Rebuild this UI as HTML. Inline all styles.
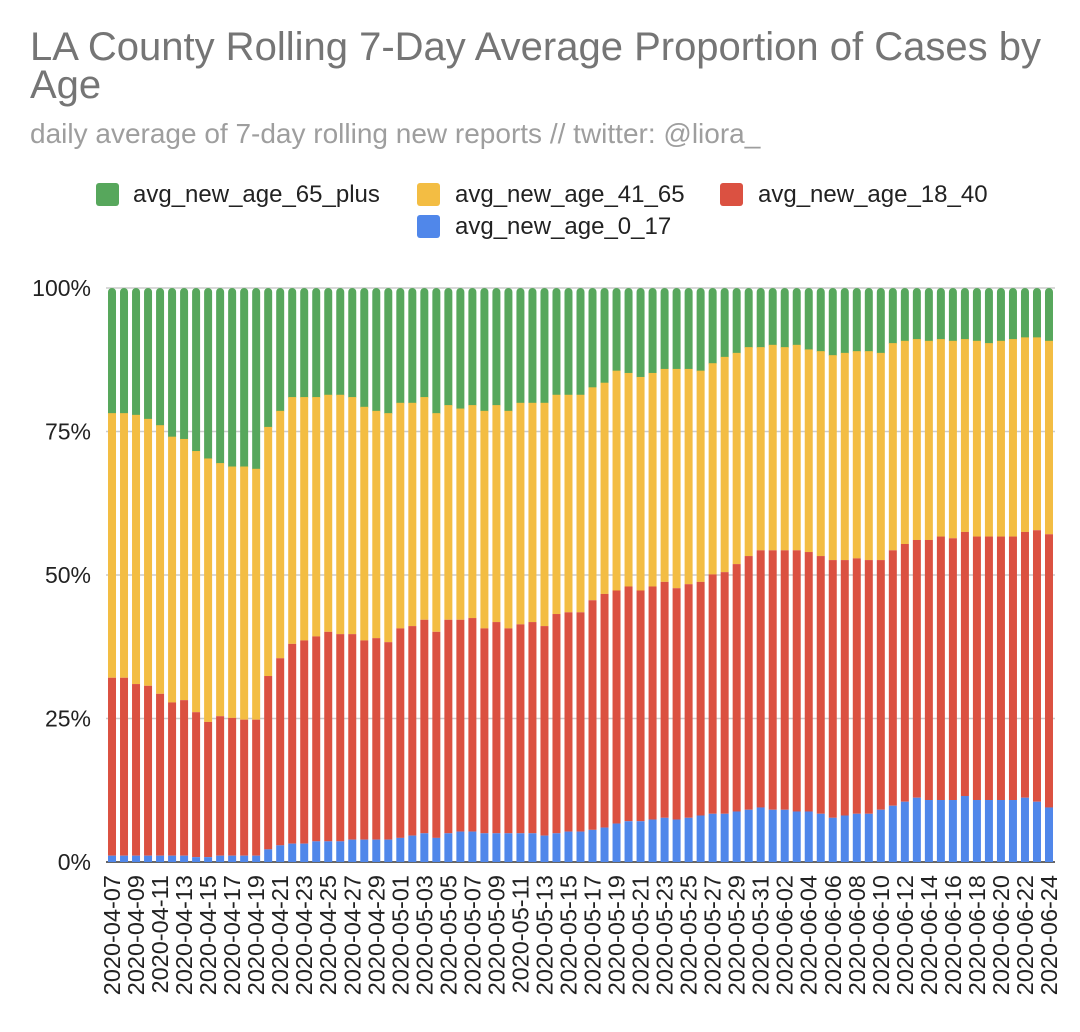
<!DOCTYPE html>
<html><head><meta charset="utf-8"><style>
body{margin:0;background:#fff;width:1080px;height:1032px;overflow:hidden;font-family:"Liberation Sans",sans-serif}
svg{display:block}
</style></head><body>
<svg id="chart" width="1080" height="1032">
<text x="30" y="60" font-size="40" fill="#757575">LA County Rolling 7-Day Average Proportion of Cases by</text>
<text x="30" y="98" font-size="40" fill="#757575">Age</text>
<text x="30" y="143" font-size="28" fill="#9e9e9e">daily average of 7-day rolling new reports // twitter: @liora_</text>
<g>
<g><rect x="96" y="183" width="23" height="23" rx="3" fill="#57a75c"/><text x="133" y="202" font-size="24" fill="#222">avg_new_age_65_plus</text></g>
<g><rect x="417" y="183" width="23" height="23" rx="3" fill="#f3bd43"/><text x="455" y="202" font-size="24" fill="#222">avg_new_age_41_65</text></g>
<g><rect x="720" y="183" width="23" height="23" rx="3" fill="#db5141"/><text x="758" y="202" font-size="24" fill="#222">avg_new_age_18_40</text></g>
<g><rect x="417" y="215" width="23" height="23" rx="3" fill="#5087ea"/><text x="455" y="234" font-size="24" fill="#222">avg_new_age_0_17</text></g>
</g>
<g id="grid"></g><g id="bars"></g><g id="xlabels"></g>
</svg>
<script>
const age0_17=[1.1,1.1,1.1,1.1,1.1,1.1,1.1,0.85,0.85,1.1,1.1,1.1,1.1,2.2,2.9,3.2,3.2,3.6,3.6,3.6,3.9,3.9,3.9,3.9,4.2,4.6,5.0,4.2,5.0,5.3,5.3,5.0,5.0,5.0,5.0,5.0,4.6,5.0,5.3,5.3,5.6,6.0,6.7,7.1,7.1,7.4,7.7,7.4,7.7,8.1,8.4,8.4,8.8,9.1,9.5,9.1,9.1,8.8,8.8,8.4,7.7,8.1,8.4,8.4,9.1,9.8,10.5,11.2,10.8,10.8,10.8,11.5,10.8,10.8,10.8,10.8,11.2,10.5,9.5];
const age18_40=[31.0,31.0,29.9,29.6,28.2,26.7,27.1,25.25,23.55,24.3,24.0,23.7,23.7,30.2,32.6,34.8,35.4,35.7,36.5,36.1,35.8,34.7,35.1,34.4,36.5,36.5,37.2,35.9,37.2,36.9,37.2,35.7,36.8,35.7,36.4,36.8,36.5,38.2,38.2,38.2,40.0,40.7,40.6,40.9,40.2,40.6,41.1,40.3,40.7,40.7,41.7,42.1,43.1,44.2,44.8,45.2,45.2,45.5,45.2,44.9,44.9,44.5,44.5,44.2,43.5,44.5,44.9,44.9,45.3,45.9,45.6,46.0,45.9,45.9,45.9,45.9,46.3,47.3,47.6];
const age41_65=[46.1,46.1,46.9,46.5,46.8,46.3,45.5,45.5,45.9,44.1,43.8,44.1,43.7,43.4,43.1,43.0,42.4,41.7,41.3,41.7,41.3,40.7,39.6,39.9,39.3,38.9,38.8,38.1,37.4,36.8,37.1,37.9,37.8,37.9,38.6,38.2,38.9,38.2,37.9,37.9,37.1,36.8,38.3,37.2,37.2,37.2,37.1,38.2,37.5,36.8,36.8,37.5,36.8,36.4,35.4,35.8,35.4,35.8,35.3,35.7,35.7,36.1,36.1,36.4,36.1,36.1,35.4,35.0,34.7,34.4,34.4,33.6,34.1,33.7,34.1,34.4,33.9,33.6,33.7];
const age65plus=[21.8,21.8,22.1,22.8,23.9,25.9,26.3,28.4,29.7,30.5,31.1,31.1,31.5,24.2,21.4,19.0,19.0,19.0,18.6,18.6,19.0,20.7,21.4,21.8,20.0,20.0,19.0,21.8,20.4,21.0,20.4,21.4,20.4,21.4,20.0,20.0,20.0,18.6,18.6,18.6,17.3,16.5,14.4,14.8,15.5,14.8,14.1,14.1,14.1,14.4,13.1,12.0,11.3,10.3,10.3,9.9,10.3,9.9,10.7,11.0,11.7,11.3,11.0,11.0,11.3,9.6,9.2,8.9,9.2,8.9,9.2,8.9,9.2,9.6,9.2,8.9,8.6,8.6,9.2];
const yTicks=[0,25,50,75,100];
const yTickLabels=["0%","25%","50%","75%","100%"];
const startDate="2020-04-07";

const NS="http://www.w3.org/2000/svg";
const L=106,R=1055,T=288,B=862;
const n=age0_17.length, pitch=(R-L)/n, bw=8;
const yS=v=>B-(B-T)*v/100;
const xC=i=>L+(i+0.5)*pitch;
function mk(tag,attrs,parent){const e=document.createElementNS(NS,tag);for(const k in attrs)e.setAttribute(k,attrs[k]);parent.appendChild(e);return e;}
const grid=document.getElementById('grid'),bars=document.getElementById('bars'),xl=document.getElementById('xlabels');
yTicks.forEach((t,k)=>{
  const ln=mk('line',{x1:L,x2:R,y1:yS(t),y2:yS(t),stroke:t===0?'#333':'#ccc','stroke-width':1.5},grid);
  
  
  const tx=mk('text',{x:91,y:yS(t)+8,'text-anchor':'end','font-size':23,fill:'#222'},grid);
  tx.textContent=yTickLabels[k];
  
  
});
const series=[[age0_17,'#5087ea','age-0-17'],[age18_40,'#db5141','age-18-40'],[age41_65,'#f3bd43','age-41-65'],[age65plus,'#57a75c','age-65-plus']];
const d0=new Date(startDate+"T00:00:00Z");
for(let i=0;i<n;i++){
  const tot=age0_17[i]+age18_40[i]+age41_65[i]+age65plus[i];
  let cum=0;const x=xC(i)-bw/2;
  const segs=[];
  series.forEach(s=>{const v=s[0][i]/tot*100;segs.push([cum,cum+v,s[1],s[2]]);cum+=v;});
  for(let k=3;k>=0;k--){
    const [a,b,c,nm]=segs[k];
    let r;
    if(k===3){r=mk('rect',{x:x,y:yS(b),width:bw,height:Math.max(0,yS(a)-yS(b)+4),rx:4,fill:c},bars);}
    else{r=mk('rect',{x:x,y:yS(b),width:bw,height:Math.max(0,yS(a)-yS(b)),fill:c},bars);}
    
    
  }
  if(i%2===0){
    const d=new Date(d0.getTime()+i*86400000);
    const lab=d.toISOString().slice(0,10);
    const tx=mk('text',{x:0,y:0,'text-anchor':'end','font-size':23.5,fill:'#222',transform:`translate(${xC(i)+8},875) rotate(-90)`},xl);
    tx.textContent=lab;
    
    
  }
}
</script>
</body></html>
